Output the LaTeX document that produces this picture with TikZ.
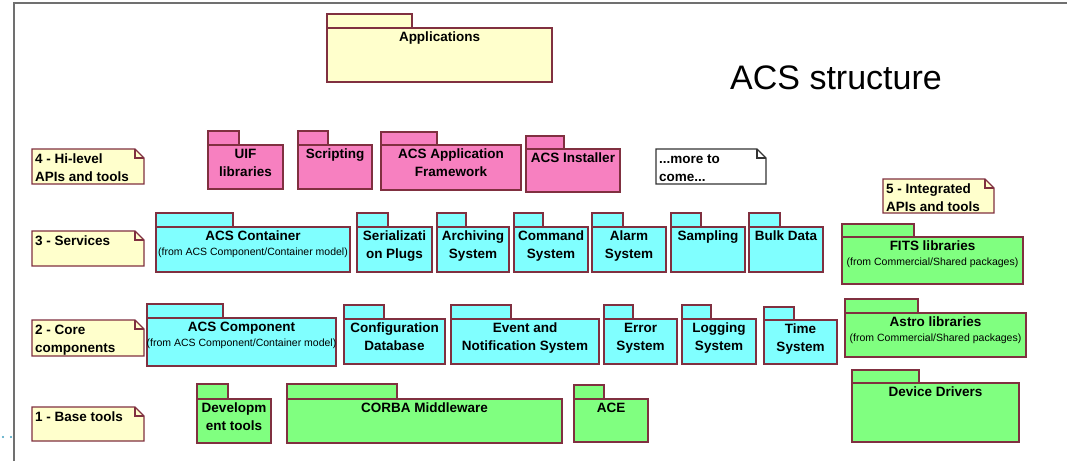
\documentclass[tikz,border=0pt]{standalone}
\usepackage{fontspec}
\setmainfont{Liberation Sans}
\definecolor{pkgborder}{RGB}{128,48,64}
\definecolor{appyellow}{RGB}{255,255,204}
\definecolor{apipink}{RGB}{247,128,192}
\definecolor{svccyan}{RGB}{128,255,255}
\definecolor{basegreen}{RGB}{128,255,128}
\definecolor{framegray}{RGB}{112,112,112}
\definecolor{dotcol}{RGB}{64,160,192}
\tikzset{
  pkgshape/.style={rectangle,draw=pkgborder,line width=1.2pt,anchor=north west,inner sep=0pt,outer sep=0pt},
  pkglabel/.style={anchor=north,inner sep=0pt,align=center,font=\bfseries\fontsize{13.5}{18}\selectfont,yshift=-4pt},
  pkgsub/.style={anchor=base,inner sep=0pt,font=\fontsize{10.5}{12}\selectfont},
  noteframe/.style={rectangle,draw=none,anchor=north west,inner sep=0pt,outer sep=0pt},
  yellownote/.style={fill=appyellow,draw=pkgborder,line width=1.2pt},
  whitenote/.style={fill=white,draw=black!80,line width=1.2pt},
  notelabel/.style={anchor=north west,inner sep=0pt,align=left,font=\bfseries\fontsize{13.5}{18}\selectfont,xshift=3pt,yshift=-5pt},
}
% package: name, x1, ytab, xtab2, ybody, x2, y2, fill, text
\newcommand\umlpkg[9]{%
  \node[pkgshape,fill=#8,minimum width={(#4-#2)*1pt},minimum height={(#5-#3)*1pt}] (#1-tab) at (#2,#3) {};
  \node[pkgshape,fill=#8,minimum width={(#6-#2)*1pt},minimum height={(#7-#5)*1pt}] (#1) at (#2,#5) {};
  \node[pkglabel] (#1-label) at (#1.north) {#9};
}
% note: name, x1, y1, x2, y2, style, text
\newcommand\umlnote[7]{%
  \node[noteframe,minimum width={(#4-#2)*1pt},minimum height={(#5-#3)*1pt}] (#1) at (#2,#3) {};
  \draw[#6] (#1.north west) -- ([xshift=-9pt]#1.north east) -- ([yshift=-9pt]#1.north east)
     -- (#1.south east) -- (#1.south west) -- cycle;
  \draw[#6,fill=none] ([xshift=-9pt]#1.north east) -- ([xshift=-9pt,yshift=-9pt]#1.north east)
     -- ([yshift=-9pt]#1.north east);
  \node[notelabel] (#1-label) at (#1.north west) {#7};
}
\begin{document}
\begin{tikzpicture}[x=1pt,y=-1pt]
\useasboundingbox (0,0) rectangle (1067,461);
\fill[white] (0,0) rectangle (1067,461);
% frame
\draw[framegray,line width=2pt] (13.5,461) -- (13.5,2.5) -- (1067,2.5);
\fill[dotcol] (3,437) circle (1.1);
\fill[dotcol] (11,437) circle (1.1);

% title
\node[inner sep=0pt,font=\fontsize{34}{40}\selectfont] (title) at (836,78) {ACS structure};

% applications
\umlpkg{apps}{327}{14}{412}{28}{552}{82}{appyellow}{Applications}

% level 4
\umlnote{n4}{32}{149}{144}{184}{yellownote}{4 - Hi-level\\APIs and tools}
\umlpkg{uif}{208}{131}{239}{145}{283}{189}{apipink}{UIF\\libraries}
\umlpkg{script}{298}{131}{328}{145}{372}{189}{apipink}{Scripting}
\umlpkg{acsaf}{381}{132}{437}{145}{521}{190}{apipink}{ACS Application\\Framework}
\umlpkg{inst}{526}{136}{564}{149}{620}{192}{apipink}{ACS Installer}
\umlnote{more}{656}{149}{766}{184}{whitenote}{...more to\\come...}
\umlnote{n5}{883}{179}{994}{213}{yellownote}{5 - Integrated\\APIs and tools}

% level 3
\umlnote{n3}{32}{231}{144}{266}{yellownote}{3 - Services}
\umlpkg{cont}{156}{213}{233}{227}{350}{272}{svccyan}{ACS Container}
\node[pkgsub] (cont-sub) at ([yshift=-15pt]cont-label.base) {(from ACS Component/Container model)};
\umlpkg{ser}{357}{213}{388}{227}{432}{272}{svccyan}{Serializati\\on Plugs}
\umlpkg{arch}{437}{213}{466}{227}{509}{272}{svccyan}{Archiving\\System}
\umlpkg{cmd}{514}{213}{543}{227}{588}{272}{svccyan}{Command\\System}
\umlpkg{alarm}{592}{213}{623}{227}{666}{272}{svccyan}{Alarm\\System}
\umlpkg{samp}{671}{213}{701}{227}{745}{272}{svccyan}{Sampling}
\umlpkg{bulk}{749}{213}{780}{227}{823}{272}{svccyan}{Bulk Data}
\umlpkg{fits}{842}{224}{914}{237}{1023}{284}{basegreen}{FITS libraries}
\node[pkgsub] (fits-sub) at ([yshift=-15pt]fits-label.base) {(from Commercial/Shared packages)};

% level 2
\umlnote{n2}{32}{320}{144}{356}{yellownote}{2 - Core\\components}
\umlpkg{comp}{147}{304}{223}{318}{336}{366}{svccyan}{ACS Component}
\node[pkgsub] (comp-sub) at ([yshift=-15pt]comp-label.base) {(from ACS Component/Container model)};
\umlpkg{cdb}{344}{305}{384}{319}{445}{364}{svccyan}{Configuration\\Database}
\umlpkg{event}{451}{305}{511}{319}{599}{364}{svccyan}{Event and\\Notification System}
\umlpkg{err}{604}{305}{633}{319}{677}{364}{svccyan}{Error\\System}
\umlpkg{log}{682}{305}{711}{319}{756}{364}{svccyan}{Logging\\System}
\umlpkg{time}{764}{307}{794}{320}{837}{364}{svccyan}{Time\\System}
\umlpkg{astro}{845}{299}{918}{313}{1026}{357}{basegreen}{Astro libraries}
\node[pkgsub] (astro-sub) at ([yshift=-15pt]astro-label.base) {(from Commercial/Shared packages)};
\umlpkg{dev}{852}{370}{919}{383}{1019}{442}{basegreen}{Device Drivers}

% level 1
\umlnote{n1}{32}{407}{144}{441}{yellownote}{1 - Base tools}
\umlpkg{devtools}{197}{384}{228}{399}{271}{443}{basegreen}{Developm\\ent tools}
\umlpkg{corba}{287}{384}{397}{399}{562}{443}{basegreen}{CORBA Middleware}
\umlpkg{ace}{574}{385}{604}{399}{648}{442}{basegreen}{ACE}
\end{tikzpicture}
\end{document}
